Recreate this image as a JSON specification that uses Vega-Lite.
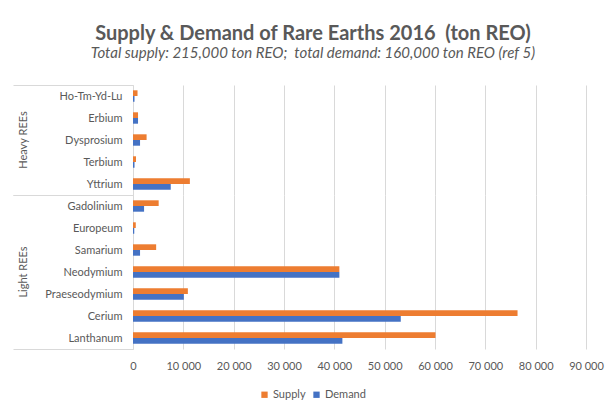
{
  "$schema": "https://vega.github.io/schema/vega-lite/v6.json",
  "background": "white",
  "padding": {"left": 12, "top": 24, "right": 5, "bottom": 5},
  "title": {
    "text": "Supply & Demand of Rare Earths 2016\u00a0 (ton REO)",
    "subtitle": "Total supply: 215,000 ton REO;\u00a0 total demand: 160,000 ton REO (ref 5)",
    "anchor": "middle",
    "frame": "bounds",
    "dx": 5,
    "font": "Lato",
    "fontSize": 20,
    "fontWeight": "bold",
    "color": "#595959",
    "subtitleFont": "Lato",
    "subtitleFontSize": 15,
    "subtitleFontStyle": "italic",
    "subtitleColor": "#595959",
    "subtitlePadding": 2,
    "offset": 18
  },
  "data": {
    "values": [
      {"element": "Ho-Tm-Yd-Lu", "group": "Heavy REEs", "series": "Supply", "value": 900},
      {"element": "Ho-Tm-Yd-Lu", "group": "Heavy REEs", "series": "Demand", "value": 300},
      {"element": "Erbium", "group": "Heavy REEs", "series": "Supply", "value": 1000},
      {"element": "Erbium", "group": "Heavy REEs", "series": "Demand", "value": 1000},
      {"element": "Dysprosium", "group": "Heavy REEs", "series": "Supply", "value": 2700},
      {"element": "Dysprosium", "group": "Heavy REEs", "series": "Demand", "value": 1400},
      {"element": "Terbium", "group": "Heavy REEs", "series": "Supply", "value": 600},
      {"element": "Terbium", "group": "Heavy REEs", "series": "Demand", "value": 300},
      {"element": "Yttrium", "group": "Heavy REEs", "series": "Supply", "value": 11300},
      {"element": "Yttrium", "group": "Heavy REEs", "series": "Demand", "value": 7500},
      {"element": "Gadolinium", "group": "Light REEs", "series": "Supply", "value": 5100},
      {"element": "Gadolinium", "group": "Light REEs", "series": "Demand", "value": 2200},
      {"element": "Europeum", "group": "Light REEs", "series": "Supply", "value": 550},
      {"element": "Europeum", "group": "Light REEs", "series": "Demand", "value": 250},
      {"element": "Samarium", "group": "Light REEs", "series": "Supply", "value": 4600},
      {"element": "Samarium", "group": "Light REEs", "series": "Demand", "value": 1400},
      {"element": "Neodymium", "group": "Light REEs", "series": "Supply", "value": 41000},
      {"element": "Neodymium", "group": "Light REEs", "series": "Demand", "value": 41000},
      {"element": "Praeseodymium", "group": "Light REEs", "series": "Supply", "value": 10900},
      {"element": "Praeseodymium", "group": "Light REEs", "series": "Demand", "value": 10100},
      {"element": "Cerium", "group": "Light REEs", "series": "Supply", "value": 76400},
      {"element": "Cerium", "group": "Light REEs", "series": "Demand", "value": 53200},
      {"element": "Lanthanum", "group": "Light REEs", "series": "Supply", "value": 60100},
      {"element": "Lanthanum", "group": "Light REEs", "series": "Demand", "value": 41600}
    ]
  },
  "bounds": "flush",
  "facet": {
    "row": {
      "field": "group",
      "type": "nominal",
      "sort": ["Heavy REEs", "Light REEs"],
      "title": null,
      "header": {
        "title": null,
        "labelFont": "Lato",
        "labelFontSize": 11,
        "labelColor": "#595959",
        "labelAngle": -90,
        "labelPadding": 98
      }
    }
  },
  "spacing": 0,
  "resolve": {"scale": {"y": "independent"}, "axis": {"y": "independent"}},
  "spec": {
    "width": 453,
    "height": {"step": 22, "for": "position"},
    "mark": {"type": "bar"},
    "encoding": {
      "y": {
        "field": "element",
        "type": "nominal",
        "sort": ["Ho-Tm-Yd-Lu", "Erbium", "Dysprosium", "Terbium", "Yttrium", "Gadolinium", "Europeum", "Samarium", "Neodymium", "Praeseodymium", "Cerium", "Lanthanum"],
        "scale": {"paddingInner": 0, "paddingOuter": 0},
        "axis": {
          "title": null,
          "orient": "left",
          "ticks": true,
          "tickBand": "extent",
          "tickSize": 120,
          "tickColor": "#d9d9d9",
          "tickOpacity": {"condition": {"test": "datum.index < 0 || datum.value == 'Yttrium' || datum.value == 'Lanthanum'", "value": 1}, "value": 0},
          "labelPadding": -109,
          "labelFont": "Lato",
          "labelFontSize": 11,
          "labelColor": "#595959",
          "domainColor": "#d9d9d9",
          "grid": false
        }
      },
      "yOffset": {
        "field": "series",
        "type": "nominal",
        "sort": ["Supply", "Demand"],
        "scale": {"range": [5.3, 16.7], "paddingInner": 0, "paddingOuter": 0}
      },
      "x": {
        "field": "value",
        "type": "quantitative",
        "scale": {"domain": [0, 90000], "nice": false},
        "axis": {
          "title": null,
          "values": [0, 10000, 20000, 30000, 40000, 50000, 60000, 70000, 80000, 90000],
          "labelExpr": "replace(format(datum.value, ','), ',', ' ')",
          "labelOverlap": false,
          "labelFlush": false,
          "domain": false,
          "ticks": false,
          "labelPadding": 11,
          "labelFont": "Lato",
          "labelFontSize": 11,
          "labelColor": "#595959",
          "grid": true,
          "gridColor": "#d9d9d9",
          "gridWidth": 1
        }
      },
      "color": {
        "field": "series",
        "type": "nominal",
        "scale": {"domain": ["Supply", "Demand"], "range": ["#ED7D31", "#4472C4"]},
        "legend": {
          "title": null,
          "orient": "none",
          "legendX": 126,
          "legendY": 304,
          "direction": "horizontal",
          "symbolType": "square",
          "symbolSize": 40,
          "symbolStrokeWidth": 0,
          "labelFont": "Lato",
          "labelFontSize": 11,
          "labelColor": "#595959",
          "columnPadding": 5,
          "labelOffset": 3
        }
      }
    }
  },
  "config": {
    "view": {"stroke": null},
    "font": "Lato"
  }
}
